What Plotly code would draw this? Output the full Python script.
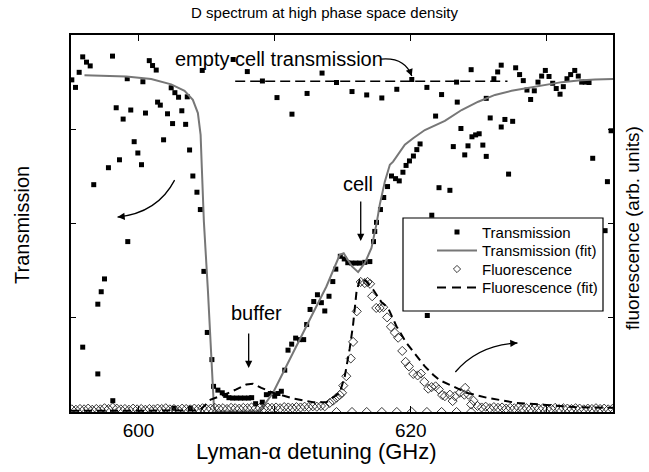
import plotly.graph_objects as go

# ---------------- data ----------------
trans_x = [595.10, 595.37, 595.64, 595.90, 595.90, 596.18, 596.45, 596.71, 597.01, 597.01,
           597.26, 597.50, 597.79, 598.09, 598.11, 598.36, 598.60, 598.87, 599.17, 599.21,
           599.43, 599.68, 599.95, 600.22, 600.32, 600.51, 600.79, 601.03, 601.30, 601.40,
           601.60, 601.84, 602.13, 602.40, 602.50, 602.60, 602.67, 602.94, 603.18, 603.46,
           603.58, 603.75, 603.80, 603.99, 604.29, 604.54, 604.68, 604.80, 605.05, 605.39,
           605.51, 605.83, 606.15, 606.40, 606.64, 606.91, 606.95, 607.21, 607.50, 607.79,
           607.99, 608.09, 608.31, 608.60, 609.09, 609.10, 609.39, 609.68, 610.00, 610.17,
           610.24, 610.49, 610.74, 610.98, 611.25, 611.27, 611.54, 611.84, 612.13, 612.35,
           612.38, 612.60, 612.87, 613.14, 613.43, 613.48, 613.68, 613.99, 614.27, 614.49,
           614.54, 614.82, 615.11, 615.37, 615.66, 615.68, 615.96, 616.25, 616.62, 616.76,
           616.99, 617.26, 617.35, 617.48, 617.77, 617.87, 618.01, 618.29, 618.58, 618.88,
           618.97, 619.15, 619.42, 619.65, 619.90, 620.07, 620.19, 620.44, 620.68, 621.18,
           621.21, 621.54, 621.82, 622.07, 622.26, 622.87, 623.12, 623.36, 623.41, 623.68,
           623.96, 624.20, 624.43, 624.49, 624.76, 625.02, 625.29, 625.54, 625.54, 625.83,
           626.10, 626.38, 626.64, 626.64, 626.91, 627.18, 627.48, 627.70, 627.99, 628.26,
           628.53, 628.80, 629.07, 629.34, 629.61, 629.88, 630.15, 630.42, 630.68, 630.96,
           631.20, 631.47, 631.74, 632.04, 632.30, 632.55, 632.81, 633.09, 633.36, 634.27,
           634.44, 634.71]
trans_y = [0.881, 0.861, 0.901, 0.942, 0.172, 0.928, 0.918, 0.603, 0.286, 0.101,
           0.319, 0.353, 0.648, 0.944, 0.030, 0.807, 0.669, 0.777, 0.884, 0.452,
           0.801, 0.717, 0.687, 0.656, 0.876, 0.793, 0.932, 0.919, 0.907, 0.822,
           0.814, 0.722, 0.791, 0.860, 0.765, 0.010, 0.847, 0.835, 0.799, 0.763,
           0.836, 0.695, 0.010, 0.626, 0.583, 0.537, 0.906, 0.373, 0.211, 0.139,
           0.068, 0.058, 0.051, 0.044, 0.038, 0.037, 0.935, 0.037, 0.037, 0.037,
           0.903, 0.037, 0.038, 0.022, 0.026, 0.878, 0.046, 0.049, 0.042, 0.834,
           0.049, 0.055, 0.111, 0.164, 0.180, 0.790, 0.196, 0.192, 0.192, 0.232,
           0.845, 0.272, 0.293, 0.311, 0.290, 0.899, 0.268, 0.307, 0.346, 0.379,
           0.874, 0.413, 0.406, 0.396, 0.395, 0.850, 0.395, 0.395, 0.397, 0.841,
           0.399, 0.452, 0.479, 0.503, 0.537, 0.833, 0.569, 0.598, 0.626, 0.619,
           0.856, 0.613, 0.636, 0.654, 0.666, 0.882, 0.679, 0.696, 0.711, 0.861,
           0.256, 0.522, 0.785, 0.595, 0.842, 0.588, 0.704, 0.875, 0.822, 0.752,
           0.682, 0.706, 0.908, 0.730, 0.735, 0.738, 0.708, 0.678, 0.832, 0.780,
           0.884, 0.902, 0.920, 0.756, 0.776, 0.631, 0.771, 0.913, 0.895, 0.879,
           0.854, 0.829, 0.852, 0.875, 0.891, 0.906, 0.890, 0.872, 0.858, 0.843,
           0.863, 0.884, 0.895, 0.906, 0.891, 0.875, 0.875, 0.874, 0.673, 0.481,
           0.611, 0.746]

tfit_x = [596.03, 599.10, 600.93, 602.40, 603.38, 603.99, 604.36, 604.56, 604.65,
          604.80, 605.10, 605.35, 605.54, 605.71, 607.28, 608.90, 609.88, 611.35, 612.82,
          613.80, 614.78, 615.07, 615.68, 616.13, 616.62, 617.11, 617.48, 617.72, 618.09,
          618.46, 618.70, 619.07, 619.56, 620.17, 621.03, 622.50, 623.73, 624.95, 626.18,
          627.40, 628.63, 629.85, 631.08, 632.30, 633.53, 634.85]
tfit_y = [0.893, 0.890, 0.883, 0.869, 0.852, 0.828, 0.793, 0.735, 0.647,
          0.505, 0.320, 0.144, 0.011, 0.002, 0.001, 0.002, 0.051, 0.157, 0.263,
          0.333, 0.417, 0.421, 0.386, 0.371, 0.395, 0.435, 0.499, 0.550, 0.611,
          0.656, 0.664, 0.682, 0.709, 0.726, 0.748, 0.772, 0.801, 0.823, 0.841,
          0.852, 0.860, 0.869, 0.875, 0.879, 0.882, 0.883]

fluo_x = [595.1, 595.4, 595.7, 596.0, 596.3, 596.6, 596.9, 597.2, 597.5, 597.8,
          598.1, 598.4, 598.7, 599.0, 599.3, 599.6, 599.9, 600.2, 600.5, 600.8,
          601.1, 601.4, 601.7, 602.0, 602.3, 602.6, 602.9, 603.2, 603.5, 603.8,
          604.1, 604.4, 604.7, 605.0, 605.3, 605.6, 605.9, 606.2, 606.5, 606.8,
          607.1, 607.4, 607.7, 608.0, 608.3, 608.6, 608.9, 609.2, 609.5, 609.8,
          610.1, 610.4, 610.7, 611.0, 611.3, 611.6, 611.9, 612.2, 612.5, 612.8,
          613.1, 613.4,
          613.68, 614.04, 614.29, 614.54, 614.78, 614.95, 615.04, 615.26, 615.59, 615.76,
          616.03, 616.32, 616.62, 616.82, 617.01, 617.16, 617.46, 617.71, 617.97, 618.26,
          618.54, 618.83, 619.07, 619.37, 619.62, 619.86, 620.18, 620.50, 620.74, 620.99,
          621.28, 621.53, 621.82, 622.06, 622.30, 622.50, 622.87, 623.07, 623.24, 623.61,
          623.93, 623.99, 624.23, 624.43, 624.60,
          614.54, 615.68, 616.76, 617.87, 618.97, 620.07, 621.18, 622.26, 623.36, 624.43,
          624.9, 625.2, 625.5, 625.8, 626.1, 626.4, 626.7, 627.0, 627.3, 627.6,
          627.9, 628.2, 628.5, 628.8, 629.1, 629.4, 629.7, 630.0, 630.3, 630.6,
          630.9, 631.2, 631.5, 631.8, 632.1, 632.4, 632.7, 633.0, 633.3, 633.6,
          633.9, 634.2, 634.5, 634.8]
fluo_y = [0.007, 0.006, 0.008, 0.007, 0.009, 0.006, 0.008, 0.007, 0.010, 0.008,
          0.012, 0.009, 0.007, 0.008, 0.006, 0.009, 0.007, 0.008, 0.006, 0.008,
          0.007, 0.009, 0.008, 0.010, 0.007, 0.008, 0.006, 0.009, 0.008, 0.007,
          0.009, 0.008, 0.010, 0.008, 0.009, 0.011, 0.009, 0.010, 0.008, 0.011,
          0.010, 0.009, 0.011, 0.010, 0.012, 0.010, 0.011, 0.009, 0.012, 0.011,
          0.012, 0.010, 0.013, 0.012, 0.011, 0.013, 0.012, 0.014, 0.013, 0.015,
          0.014, 0.016,
          0.015, 0.024, 0.030, 0.038, 0.045, 0.051, 0.070, 0.095, 0.142, 0.186,
          0.267, 0.345, 0.342, 0.345, 0.340, 0.307, 0.276, 0.276, 0.278, 0.251,
          0.226, 0.210, 0.197, 0.162, 0.133, 0.121, 0.101, 0.097, 0.102, 0.080,
          0.062, 0.066, 0.068, 0.060, 0.045, 0.042, 0.046, 0.029, 0.042, 0.051,
          0.046, 0.064, 0.046, 0.020, 0.030,
          0.0, 0.0, 0.0, 0.0, 0.0, 0.0, 0.0, 0.0, 0.0, 0.0,
          0.016, 0.012, 0.014, 0.010, 0.013, 0.011, 0.012, 0.009, 0.011, 0.010,
          0.012, 0.009, 0.010, 0.008, 0.011, 0.009, 0.010, 0.008, 0.009, 0.011,
          0.008, 0.010, 0.009, 0.008, 0.010, 0.009, 0.007, 0.009, 0.008, 0.010,
          0.008, 0.009, 0.007, 0.008]

ffit_x = [595.04, 604.12, 604.49, 605.30, 606.32, 607.18, 607.92, 608.40, 609.02, 609.88,
          611.35, 612.82, 613.80, 614.78, 615.15, 615.51, 615.76, 616.01, 616.25, 616.40,
          616.74, 617.23, 617.85, 618.33, 618.95, 619.68, 620.42, 621.03, 621.64, 622.13,
          623.11, 624.09, 625.57, 627.77, 629.49, 632.06, 634.85]
ffit_y = [0.003, 0.003, 0.004, 0.033, 0.046, 0.060, 0.073, 0.075, 0.064, 0.051,
          0.036, 0.026, 0.026, 0.051, 0.095, 0.168, 0.232, 0.319, 0.351, 0.355,
          0.346, 0.325, 0.291, 0.276, 0.227, 0.183, 0.148, 0.121, 0.099, 0.084,
          0.068, 0.051, 0.038, 0.024, 0.020, 0.013, 0.011]

empty_cell_x = [607.1, 627.1]
empty_cell_y = [0.877, 0.877]

x_ticks = [600, 610, 620, 630]
x_ticktext = ["600", "", "620", ""]
y_ticks = [0.25, 0.5, 0.75]

series_names = ["Transmission", "Transmission (fit)", "Fluorescence", "Fluorescence (fit)"]

FONT = "Liberation Sans, Arial, Helvetica, sans-serif"

# plot-area geometry (pixels) used only to place decorations
L, R, T, B = 71, 613, 35, 412
W, H = R - L, B - T


def px(xp):
    return (xp - L) / W


def py(yp):
    return (B - yp) / H


fig = go.Figure()
fig.add_trace(go.Scatter(x=trans_x, y=trans_y, mode="markers", name=series_names[0],
                         marker=dict(symbol="square", size=5, color="black")))
fig.add_trace(go.Scatter(x=tfit_x, y=tfit_y, mode="lines", name=series_names[1],
                         line=dict(color="#777777", width=2)))
fig.add_trace(go.Scatter(x=fluo_x, y=fluo_y, mode="markers", name=series_names[2], yaxis="y2",
                         marker=dict(symbol="diamond-open", size=7, color="#222222",
                                     line=dict(width=0.9, color="#222222"))))
fig.add_trace(go.Scatter(x=ffit_x, y=ffit_y, mode="lines", name=series_names[3], yaxis="y2",
                         line=dict(color="black", width=2, dash="8px,5px")))
fig.add_trace(go.Scatter(x=empty_cell_x, y=empty_cell_y, mode="lines", name="empty cell",
                         line=dict(color="black", width=1.5, dash="10px,5px"), hoverinfo="skip"))

fig.update_layout(
    width=649, height=472,
    margin=dict(l=L, r=649 - R, t=T, b=472 - B),
    paper_bgcolor="white", plot_bgcolor="white",
    font=dict(family=FONT, color="black"),
    title=dict(text="D spectrum at high phase space density", x=0.5, xref="container",
               y=1 - 13 / 472, yref="container", yanchor="middle", xanchor="center",
               font=dict(size=15, family=FONT, color="black")),
    xaxis=dict(range=[595.04, 634.85], tickvals=x_ticks, ticktext=x_ticktext,
               ticks="inside", ticklen=6, tickwidth=1.3, tickcolor="black",
               showline=True, linecolor="black", linewidth=1.5, mirror="ticks",
               showgrid=False, zeroline=False, tickfont=dict(size=19, family=FONT)),
    yaxis=dict(range=[0, 1], tickvals=y_ticks, showticklabels=False,
               ticks="inside", ticklen=5, tickwidth=1.3, tickcolor="black",
               showline=True, linecolor="black", linewidth=1.5, mirror="ticks",
               showgrid=False, zeroline=False),
    yaxis2=dict(range=[0, 1], overlaying="y", side="right", showticklabels=False,
                ticks="", showline=False, showgrid=False, zeroline=False),
    showlegend=False,
)

shapes = []
# legend frame
shapes.append(dict(type="rect", xref="paper", yref="paper", x0=px(403), x1=px(603),
                   y0=py(311), y1=py(218), line=dict(color="black", width=1.2),
                   fillcolor="white", layer="above"))
# legend symbols
rows = [232, 250.5, 269, 287.5]
sx0, sx1, sxc = 437, 477, 457
shapes.append(dict(type="rect", xref="paper", yref="paper", x0=px(sxc - 2.5), x1=px(sxc + 2.5),
                   y0=py(rows[0] + 2.5), y1=py(rows[0] - 2.5), line=dict(width=0),
                   fillcolor="black", layer="above"))
shapes.append(dict(type="line", xref="paper", yref="paper", x0=px(sx0), x1=px(sx1),
                   y0=py(rows[1]), y1=py(rows[1]), line=dict(color="#777777", width=2),
                   layer="above"))
d = 3.6
shapes.append(dict(type="path", xref="paper", yref="paper",
                   path=(f"M {px(sxc)},{py(rows[2] - d)} L {px(sxc + d)},{py(rows[2])} "
                         f"L {px(sxc)},{py(rows[2] + d)} L {px(sxc - d)},{py(rows[2])} Z"),
                   line=dict(color="#222222", width=0.9), fillcolor="white", layer="above"))
shapes.append(dict(type="line", xref="paper", yref="paper", x0=px(sx0), x1=px(sx1),
                   y0=py(rows[3]), y1=py(rows[3]), line=dict(color="black", width=2, dash="9px,6px"),
                   layer="above"))

# curved arrows (data coordinates)
arrow_line = dict(color="black", width=1.3)
shapes.append(dict(type="path", xref="x", yref="y",
                   path="M 602.65,0.615 Q 601.40,0.528 598.46,0.517", line=arrow_line))
shapes.append(dict(type="path", xref="x", yref="y2",
                   path="M 623.27,0.106 Q 624.96,0.178 627.83,0.183", line=arrow_line))
shapes.append(dict(type="path", xref="x", yref="y",
                   path="M 617.79,0.936 Q 619.56,0.942 620.07,0.891", line=arrow_line))
fig.update_layout(shapes=shapes)

ann = []
head = dict(text="", showarrow=True, arrowhead=2, arrowsize=1.1, arrowwidth=1.3, arrowcolor="black")
ann.append(dict(x=598.46, y=0.517, xref="x", yref="y", ax=7, ay=-0.7, **head))
ann.append(dict(x=627.83, y=0.183, xref="x", yref="y2", ax=-7, ay=0.4, **head))
ann.append(dict(x=620.07, y=0.891, xref="x", yref="y", ax=-2.5, ay=-6.5, **head))
ann.append(dict(x=616.32, y=0.4536, xref="x", yref="y", ax=0, ay=-41, **head))
ann.append(dict(x=608.09, y=0.1167, xref="x", yref="y", ax=0, ay=-36, **head))

lab = dict(showarrow=False, xanchor="center", yanchor="middle")
ann.append(dict(x=610.29, y=0.936, xref="x", yref="y", text="empty cell transmission",
                font=dict(size=20, family=FONT), **lab))
ann.append(dict(x=616.10, y=0.605, xref="x", yref="y", text="cell",
                font=dict(size=20, family=FONT), **lab))
ann.append(dict(x=608.65, y=0.2626, xref="x", yref="y", text="buffer",
                font=dict(size=20, family=FONT), **lab))
# legend texts
for r, name in zip(rows, series_names):
    ann.append(dict(x=px(480), y=py(r), xref="paper", yref="paper", text=name,
                    showarrow=False, xanchor="left", yanchor="middle",
                    font=dict(size=15, family=FONT)))
# axis titles
ann.append(dict(x=px(316.5), y=py(452), xref="paper", yref="paper",
                text="Lyman-α detuning (GHz)", font=dict(size=22, family=FONT), **lab))
ann.append(dict(x=px(22), y=py(225), xref="paper", yref="paper",
                text="Transmission", textangle=-90, font=dict(size=20, family=FONT), **lab))
ann.append(dict(x=px(632), y=py(228), xref="paper", yref="paper",
                text="fluorescence (arb. units)", textangle=-90,
                font=dict(size=19, family=FONT), **lab))
fig.update_layout(annotations=ann)

fig.write_html("out.html", config={"displayModeBar": False},
               post_script="document.body.style.margin='0px';")
